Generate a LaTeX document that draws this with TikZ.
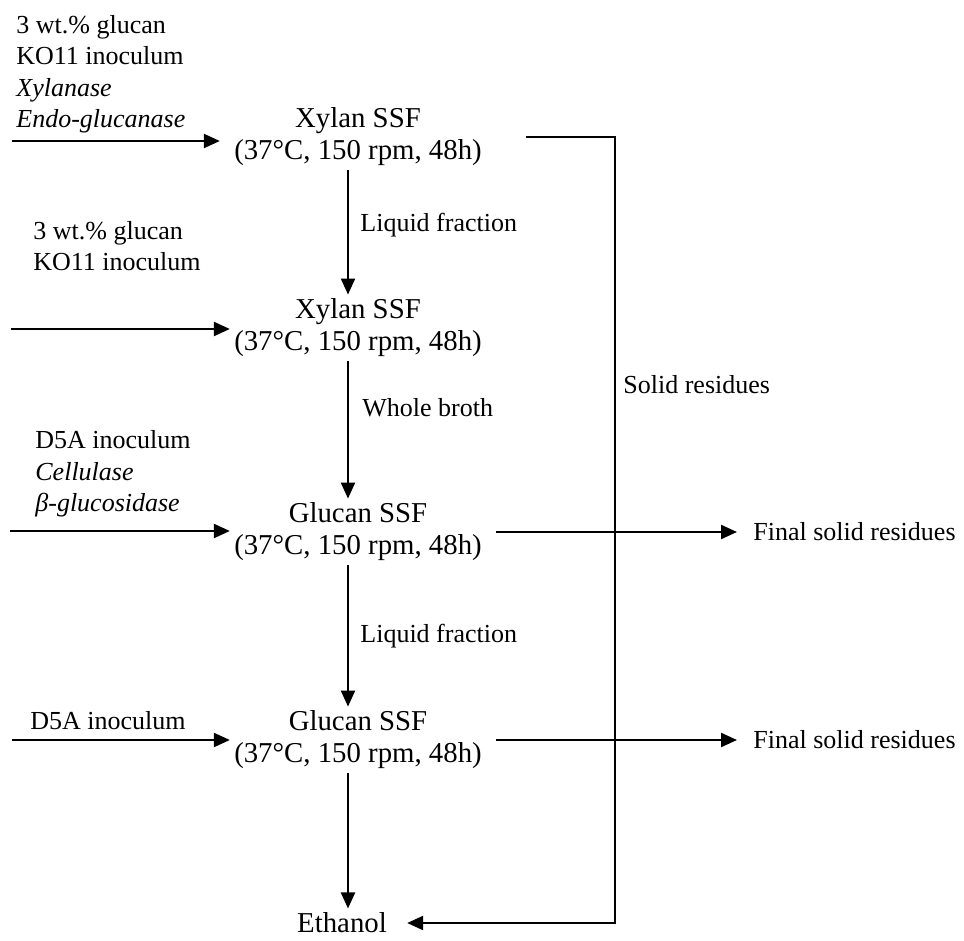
\documentclass[tikz,border=0pt]{standalone}
\usepackage{fontspec}
\setmainfont{Liberation Serif}
\usetikzlibrary{arrows.meta}

\newcommand{\txtsize}{\fontsize{13}{15.75}\selectfont}
\newcommand{\stagesize}{\fontsize{14.4}{16}\selectfont}

\tikzset{
  flow/.style = {line width = 1.1pt, -{Triangle[length = 8pt, width = 7pt]}},
  stage/.style = {align = center, inner sep = 2pt, font = \stagesize},
  feed/.style = {align = left, inner sep = 0pt, anchor = west, font = \txtsize},
  lbl/.style = {inner sep = 0pt, anchor = west, font = \txtsize}
}

\begin{document}
\begin{tikzpicture}[x = 0.5pt, y = -0.5pt]
        \useasboundingbox (0, 0) rectangle (964, 941);

        % fermentation stages
        \node[stage] (xyl1) at (358, 137) {Xylan SSF\\(37°C, 150 rpm, 48h)};
        \node[stage] (xyl2) at (358, 328) {Xylan SSF\\(37°C, 150 rpm, 48h)};
        \node[stage] (glc1) at (358, 532) {Glucan SSF\\(37°C, 150 rpm, 48h)};
        \node[stage] (glc2) at (358, 740) {Glucan SSF\\(37°C, 150 rpm, 48h)};
        \node[stage] (eth) at (342, 923) {Ethanol};

        % feeds
        \node[feed] (feed1) at (16, 74) {3 wt.\% glucan\\KO11 inoculum\\\textit{Xylanase}\\\textit{Endo-glucanase}};
        \node[feed] (feed2) at (33, 246) {3 wt.\% glucan\\KO11 inoculum};
        \node[feed] (feed3) at (35, 474) {D5A inoculum\\\textit{Cellulase}\\\textit{β-glucosidase}};
        \node[feed] (feed4) at (30, 721) {D5A inoculum};

        \coordinate (in1) at (12, 141);
        \coordinate (in2) at (11, 329);
        \coordinate (in3) at (10, 531);
        \coordinate (in4) at (12, 740);

        \draw[flow, shorten >= 5pt] (in1) -- (in1 -| xyl1.west);
        \draw[flow] (in2) -- (in2 -| xyl2.west);
        \draw[flow] (in3) -- (in3 -| glc1.west);
        \draw[flow] (in4) -- (in4 -| glc2.west);

        % main line
        \draw[flow] ([xshift = -5pt]xyl1.south) -- ([xshift = -5pt]xyl2.north);
        \draw[flow] ([xshift = -5pt]xyl2.south) -- ([xshift = -5pt]glc1.north);
        \draw[flow] ([xshift = -5pt]glc1.south) -- ([xshift = -5pt]glc2.north);
        \draw[flow] ([xshift = -5pt]glc2.south) -- ([xshift = -5pt]glc2.south |- eth.north);

        \node[lbl] (liq1) at (360, 225) {Liquid fraction};
        \node[lbl] (broth) at (362, 408) {Whole broth};
        \node[lbl] (liq2) at (360, 636) {Liquid fraction};

        % solid residues
        \coordinate (turn) at (615, 500);
        \draw[flow, shorten <= 20pt, shorten >= 8pt] (xyl1.east) -| (turn) |- (eth.east);
        \node[lbl] (solid) at (623, 385) {Solid residues};

        \node[lbl] (fin1) at (753, 532) {Final solid residues};
        \node[lbl] (fin2) at (753, 740) {Final solid residues};
        \draw[flow, shorten <= 5pt, shorten >= 8pt] (glc1.east) -- (glc1.east -| fin1.west);
        \draw[flow, shorten <= 5pt, shorten >= 8pt] (glc2.east) -- (glc2.east -| fin2.west);
\end{tikzpicture}
\end{document}
